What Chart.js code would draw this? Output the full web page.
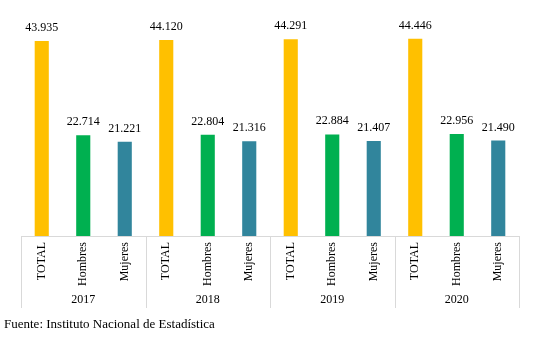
<!DOCTYPE html>
<html>
<head>
<meta charset="utf-8">
<script src="https://cdn.jsdelivr.net/npm/chart.js@4"></script>
<style>
html,body{margin:0;padding:0;background:#fff;}
#wrap{width:538px;height:341px;}
</style>
</head>
<body>
<div id="wrap"><canvas id="c" width="538" height="341"></canvas></div>
<script>
const years = ['2017', '2018', '2019', '2020'];
const seriesNames = ['TOTAL', 'Hombres', 'Mujeres'];
const total = [43935, 44120, 44291, 44446];
const hombres = [22714, 22804, 22884, 22956];
const mujeres = [21221, 21316, 21407, 21490];
const seriesColors = ['#FFC000', '#00B050', '#31859C'];
const sourceText = 'Fuente: Instituto Nacional de Estadística';

const series = [total, hombres, mujeres];
const labels = [], values = [], colors = [];
years.forEach((y, g) => {
  seriesNames.forEach((s, k) => {
    labels.push(s);
    values.push(series[k][g]);
    colors.push(seriesColors[k]);
  });
});

const FONT = "'Liberation Serif', 'Times New Roman', serif";
function fmt(v){ return String(v).replace(/\B(?=(\d{3})+(?!\d))/g, '.'); }

const overlay = {
  id: 'overlay',
  afterDraw(chart) {
    const ctx = chart.ctx;
    const xs = chart.scales.x;
    const area = chart.chartArea;
    const half = (xs.getPixelForValue(1) - xs.getPixelForValue(0)) / 2;
    ctx.save();
    // value labels
    ctx.font = '12px ' + FONT;
    ctx.fillStyle = '#000';
    ctx.textAlign = 'center';
    ctx.textBaseline = 'alphabetic';
    chart.getDatasetMeta(0).data.forEach((bar, i) => {
      ctx.fillText(fmt(values[i]), bar.x, bar.y - 10);
    });
    // group separators and year labels
    ctx.strokeStyle = '#d9d9d9';
    ctx.lineWidth = 1;
    const n = seriesNames.length;
    for (let g = 0; g <= years.length; g++) {
      const x = Math.round(xs.getPixelForValue(g * n) - half) + 0.5;
      ctx.beginPath();
      ctx.moveTo(x, area.bottom);
      ctx.lineTo(x, area.bottom + 72);
      ctx.stroke();
    }
    years.forEach((y, g) => {
      const cx = (xs.getPixelForValue(g * n) + xs.getPixelForValue(g * n + n - 1)) / 2;
      ctx.fillText(y, cx, area.bottom + 67);
    });
    ctx.textAlign = 'left';
    ctx.font = '13px ' + FONT;
    ctx.fillText(sourceText, 4, area.bottom + 92);
    ctx.restore();
  }
};

new Chart(document.getElementById('c'), {
  type: 'bar',
  data: {
    labels: labels,
    datasets: [{
      data: values,
      backgroundColor: colors,
      borderWidth: 0,
      categoryPercentage: 1,
      barPercentage: 0.34
    }]
  },
  options: {
    responsive: false,
    animation: false,
    devicePixelRatio: 1,
    layout: { padding: { top: 14, left: 21, right: 19, bottom: 0 } },
    plugins: { legend: { display: false }, tooltip: { enabled: false } },
    scales: {
      x: {
        type: 'category',
        offset: true,
        grid: { display: false, drawTicks: false },
        border: { display: true, color: '#d9d9d9', width: 1 },
        ticks: {
          autoSkip: false,
          minRotation: 90,
          maxRotation: 90,
          padding: 6,
          color: '#000',
          font: { family: FONT, size: 12 }
        },
        afterFit(scale) { scale.height = 105; }
      },
      y: {
        display: false,
        min: 0,
        max: 50000
      }
    }
  },
  plugins: [overlay]
});
</script>
</body>
</html>
